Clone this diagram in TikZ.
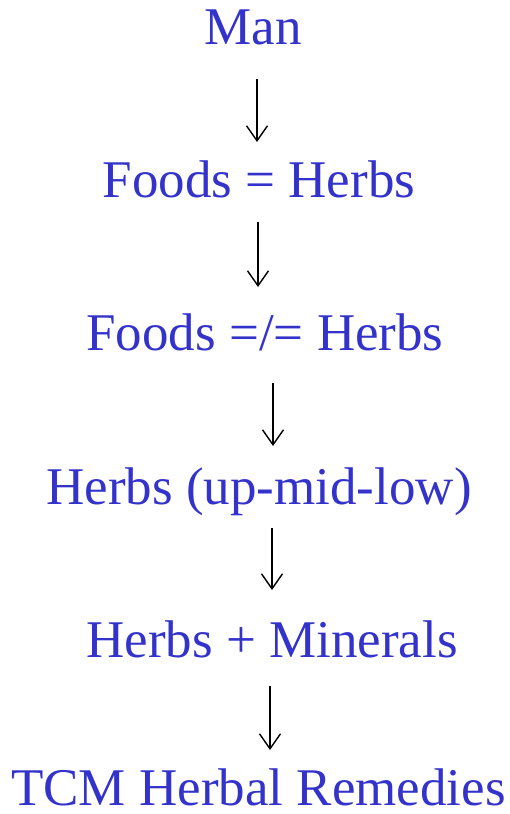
\documentclass[tikz,border=0pt]{standalone}
\usepackage{fontspec}
\setmainfont{Liberation Serif}
\usetikzlibrary{arrows.meta}
\definecolor{txtblue}{RGB}{51,51,204}
\begin{document}
\begin{tikzpicture}[x=1pt,y=-1pt,
  lbl/.style={anchor=base,inner sep=0pt,text=txtblue,font=\fontsize{53}{60}\selectfont},
  arr/.style={draw=black,line width=1.4pt,-{Straight Barb[length=15pt,width=21pt,line width=1.4pt]}}]
\useasboundingbox (0,0) rectangle (510,814);
\node[lbl] (n1) at (253,44) {Man};
\node[lbl] (n2) at (259,197) {Foods = Herbs};
\node[lbl] (n3) at (265,350) {Foods =/= Herbs};
\node[lbl] (n4) at (259,504) {Herbs (up-mid-low)};
\node[lbl] (n5) at (272,657) {Herbs + Minerals};
\node[lbl,text depth=0pt] (n6) at (258.5,805) {TCM Herbal Remedies};
\coordinate (a1s) at (257,79);  \coordinate (a1e) at (257,142);
\coordinate (a2s) at (258,222); \coordinate (a2e) at (258,287);
\coordinate (a3s) at (273,383); \coordinate (a3e) at (273,446);
\coordinate (a4s) at (272,528); \coordinate (a4e) at (272,590);
\coordinate (a5s) at (270,686); \coordinate (a5e) at (270,750);
\draw[arr] (a1s) -- (a1e);
\draw[arr] (a2s) -- (a2e);
\draw[arr] (a3s) -- (a3e);
\draw[arr] (a4s) -- (a4e);
\draw[arr] (a5s) -- (a5e);
\end{tikzpicture}
\end{document}
